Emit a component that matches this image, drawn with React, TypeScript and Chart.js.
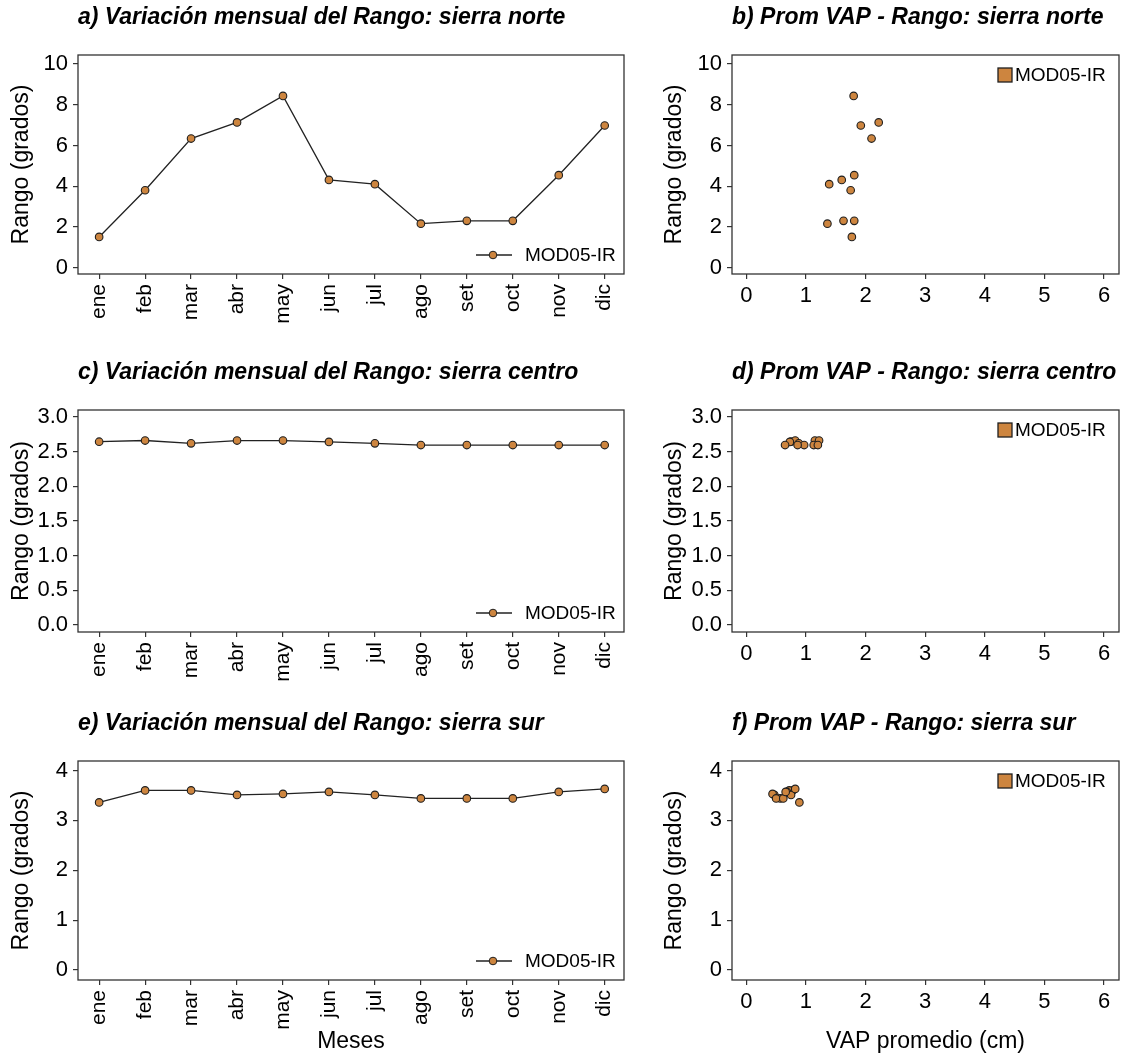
import React, { useEffect, useRef } from "react";
import { Chart, registerables } from "chart.js";

Chart.register(...registerables);

// ---------- data ----------
const months = ["ene", "feb", "mar", "abr", "may", "jun", "jul", "ago", "set", "oct", "nov", "dic"];
const seriesLabel = "MOD05-IR";

const rangoNorte = [1.51, 3.8, 6.34, 7.13, 8.43, 4.31, 4.1, 2.16, 2.3, 2.3, 4.54, 6.98];
const vapNorte = [1.77, 1.75, 2.1, 2.22, 1.8, 1.6, 1.39, 1.36, 1.63, 1.81, 1.81, 1.92];

const rangoCentro = [2.643, 2.66, 2.62, 2.66, 2.66, 2.64, 2.62, 2.595, 2.595, 2.595, 2.595, 2.595];
const vapCentro = [0.75, 0.82, 1.18, 1.15, 1.22, 0.73, 0.88, 0.65, 0.97, 1.13, 0.86, 1.2];

const rangoSur = [3.36, 3.6, 3.6, 3.51, 3.53, 3.57, 3.51, 3.44, 3.44, 3.44, 3.57, 3.63];
const vapSur = [0.89, 0.78, 0.72, 0.47, 0.44, 0.68, 0.75, 0.57, 0.5, 0.62, 0.66, 0.82];

const ticksNorte = [0, 2, 4, 6, 8, 10];
const ticksCentro = [0, 0.5, 1, 1.5, 2, 2.5, 3];
const ticksSur = [0, 1, 2, 3, 4];
const ticksVap = [0, 1, 2, 3, 4, 5, 6];

const titles = {
  a: "a) Variación mensual del Rango: sierra norte",
  b: "b) Prom VAP - Rango: sierra norte",
  c: "c) Variación mensual del Rango: sierra centro",
  d: "d) Prom VAP - Rango: sierra centro",
  e: "e) Variación mensual del Rango: sierra sur",
  f: "f) Prom VAP - Rango: sierra sur",
};

const FONT = "'Liberation Sans', Arial, Helvetica, sans-serif";
const FILL = "#CD853F";
const EDGE = "#1f1f1f";

type Area = { left: number; right: number; top: number; bottom: number };
type PanelProps = {
  kind: "line" | "scatter";
  left: number;
  top: number;
  width: number;
  height: number;
  area: Area;
  xHeight: number;
  yTitlePad: number;
  rango: number[];
  vap?: number[];
  yMin: number;
  yMax: number;
  yTicks: number[];
  yDecimals: number;
  title: string;
  xTitle?: string;
};

const decorPlugin = {
  id: "decor",
  afterDraw(chart: any, _args: any, opts: any) {
    const { ctx, chartArea: a } = chart;
    ctx.save();
    // full panel border
    ctx.strokeStyle = "#333";
    ctx.lineWidth = 1.3;
    ctx.strokeRect(a.left, a.top, a.right - a.left, a.bottom - a.top);
    // title
    ctx.fillStyle = "#000";
    ctx.textAlign = "left";
    ctx.textBaseline = "middle";
    ctx.font = `italic bold 23px ${FONT}`;
    ctx.fillText(opts.title, a.left, a.top - 37);
    // legend
    const label = chart.data.datasets[0].label;
    ctx.font = `19px ${FONT}`;
    if (opts.legend === "line") {
      const y = a.bottom - 19;
      ctx.strokeStyle = "#222";
      ctx.lineWidth = 1.3;
      ctx.beginPath();
      ctx.moveTo(a.right - 148, y);
      ctx.lineTo(a.right - 112, y);
      ctx.stroke();
      ctx.beginPath();
      ctx.arc(a.right - 131, y, 3.8, 0, Math.PI * 2);
      ctx.fillStyle = FILL;
      ctx.fill();
      ctx.strokeStyle = EDGE;
      ctx.lineWidth = 1;
      ctx.stroke();
      ctx.fillStyle = "#000";
      ctx.fillText(label, a.right - 99, y + 1);
    } else {
      const y = a.top + 20;
      ctx.fillStyle = FILL;
      ctx.fillRect(a.right - 121, y - 7, 14, 14);
      ctx.strokeStyle = EDGE;
      ctx.lineWidth = 1.3;
      ctx.strokeRect(a.right - 121, y - 7, 14, 14);
      ctx.fillStyle = "#000";
      ctx.fillText(label, a.right - 104, y + 1);
    }
    ctx.restore();
  },
};

function Panel(p: PanelProps) {
  const ref = useRef<HTMLCanvasElement | null>(null);
  useEffect(() => {
    if (!ref.current) return;
    const padTop = p.area.top - p.top;
    const yWidth = p.area.left - p.left;
    const padRight = p.left + p.width - p.area.right;
    const padBottom = p.top + p.height - p.area.bottom - p.xHeight;

    const isLine = p.kind === "line";
    const data = isLine
      ? p.rango.map((v, i) => ({ x: i, y: v }))
      : p.rango.map((v, i) => ({ x: (p.vap as number[])[i], y: v }));

    const gridCfg = {
      display: true,
      drawOnChartArea: false,
      drawTicks: true,
      tickLength: 5,
      color: "#333",
      tickColor: "#333",
      lineWidth: 1.2,
    };

    const xScale: any = isLine
      ? {
          type: "linear",
          min: -0.46,
          max: 11.42,
          afterBuildTicks: (s: any) => {
            s.ticks = months.map((_, i) => ({ value: i }));
          },
          afterFit: (s: any) => {
            s.height = p.xHeight;
          },
          ticks: {
            autoSkip: false,
            minRotation: 90,
            maxRotation: 90,
            padding: 5,
            color: "#000",
            font: { size: 21, family: FONT },
            callback: (v: any) => months[Math.round(Number(v))],
          },
          grid: gridCfg,
          border: { display: false },
        }
      : {
          type: "linear",
          min: -0.24,
          max: 6.25,
          afterBuildTicks: (s: any) => {
            s.ticks = ticksVap.map((v) => ({ value: v }));
          },
          afterFit: (s: any) => {
            s.height = p.xHeight;
          },
          ticks: {
            autoSkip: false,
            maxRotation: 0,
            padding: 4,
            color: "#000",
            font: { size: 22, family: FONT },
            callback: (v: any) => String(v),
          },
          grid: gridCfg,
          border: { display: false },
        };
    if (p.xTitle) {
      xScale.title = {
        display: true,
        text: p.xTitle,
        color: "#000",
        font: { size: 23, family: FONT },
        padding: { top: 0, bottom: 1 },
      };
    }

    const chart = new Chart(ref.current, {
      type: isLine ? "line" : "scatter",
      data: {
        datasets: [
          {
            label: seriesLabel,
            data,
            showLine: isLine,
            borderColor: "#222",
            borderWidth: 1.3,
            tension: 0,
            pointRadius: 3.8,
            pointHoverRadius: 3.8,
            pointBackgroundColor: FILL,
            pointBorderColor: EDGE,
            pointBorderWidth: 1.1,
          },
        ],
      },
      options: {
        responsive: false,
        animation: false,
        events: [],
        layout: { padding: { top: padTop, right: padRight, bottom: padBottom, left: 0 } },
        scales: {
          x: xScale,
          y: {
            type: "linear",
            min: p.yMin,
            max: p.yMax,
            afterBuildTicks: (s: any) => {
              s.ticks = p.yTicks.map((v) => ({ value: v }));
            },
            afterFit: (s: any) => {
              s.width = yWidth;
            },
            ticks: {
              padding: 5,
              color: "#000",
              font: { size: 22, family: FONT },
              callback: (v: any) => Number(v).toFixed(p.yDecimals),
            },
            grid: gridCfg,
            border: { display: false },
            title: {
              display: true,
              text: "Rango (grados)",
              color: "#000",
              font: { size: 23, family: FONT },
              padding: { top: p.yTitlePad, bottom: 0 },
            },
          },
        },
        plugins: {
          legend: { display: false },
          tooltip: { enabled: false },
          title: { display: false },
          decor: { title: p.title, legend: isLine ? "line" : "square" },
        } as any,
      },
      plugins: [decorPlugin],
    });
    return () => chart.destroy();
  }, []);

  return (
    <canvas
      ref={ref}
      width={p.width}
      height={p.height}
      style={{ position: "absolute", left: p.left, top: p.top, width: p.width, height: p.height }}
    />
  );
}

const LW = 640;
const RL = 650;
const RW = 476;
const rows = [
  { top: 0, height: 345, boxTop: 55, boxBottom: 274 },
  { top: 345, height: 355, boxTop: 410, boxBottom: 632 },
  { top: 700, height: 356, boxTop: 761, boxBottom: 980 },
];

export default function App() {
  return (
    <div style={{ position: "absolute", left: 0, top: 0, width: 1126, height: 1056, background: "#fff", overflow: "hidden" }}>
      {/* row 1 */}
      <Panel kind="line" left={0} top={rows[0].top} width={LW} height={rows[0].height}
        area={{ left: 78, right: 624, top: rows[0].boxTop, bottom: rows[0].boxBottom }}
        xHeight={60} yTitlePad={8} rango={rangoNorte} yMin={-0.31} yMax={10.44}
        yTicks={ticksNorte} yDecimals={0} title={titles.a} />
      <Panel kind="scatter" left={RL} top={rows[0].top} width={RW} height={rows[0].height}
        area={{ left: 732, right: 1119, top: rows[0].boxTop, bottom: rows[0].boxBottom }}
        xHeight={40} yTitlePad={11} rango={rangoNorte} vap={vapNorte} yMin={-0.31} yMax={10.44}
        yTicks={ticksNorte} yDecimals={0} title={titles.b} />
      {/* row 2 */}
      <Panel kind="line" left={0} top={rows[1].top} width={LW} height={rows[1].height}
        area={{ left: 78, right: 624, top: rows[1].boxTop, bottom: rows[1].boxBottom }}
        xHeight={60} yTitlePad={8} rango={rangoCentro} yMin={-0.1} yMax={3.1}
        yTicks={ticksCentro} yDecimals={1} title={titles.c} />
      <Panel kind="scatter" left={RL} top={rows[1].top} width={RW} height={rows[1].height}
        area={{ left: 732, right: 1119, top: rows[1].boxTop, bottom: rows[1].boxBottom }}
        xHeight={40} yTitlePad={11} rango={rangoCentro} vap={vapCentro} yMin={-0.1} yMax={3.1}
        yTicks={ticksCentro} yDecimals={1} title={titles.d} />
      {/* row 3 */}
      <Panel kind="line" left={0} top={rows[2].top} width={LW} height={rows[2].height}
        area={{ left: 78, right: 624, top: rows[2].boxTop, bottom: rows[2].boxBottom }}
        xHeight={76} yTitlePad={8} rango={rangoSur} yMin={-0.2} yMax={4.19}
        yTicks={ticksSur} yDecimals={0} title={titles.e} xTitle="Meses" />
      <Panel kind="scatter" left={RL} top={rows[2].top} width={RW} height={rows[2].height}
        area={{ left: 732, right: 1119, top: rows[2].boxTop, bottom: rows[2].boxBottom }}
        xHeight={76} yTitlePad={11} rango={rangoSur} vap={vapSur} yMin={-0.2} yMax={4.19}
        yTicks={ticksSur} yDecimals={0} title={titles.f} xTitle="VAP promedio (cm)" />
    </div>
  );
}
